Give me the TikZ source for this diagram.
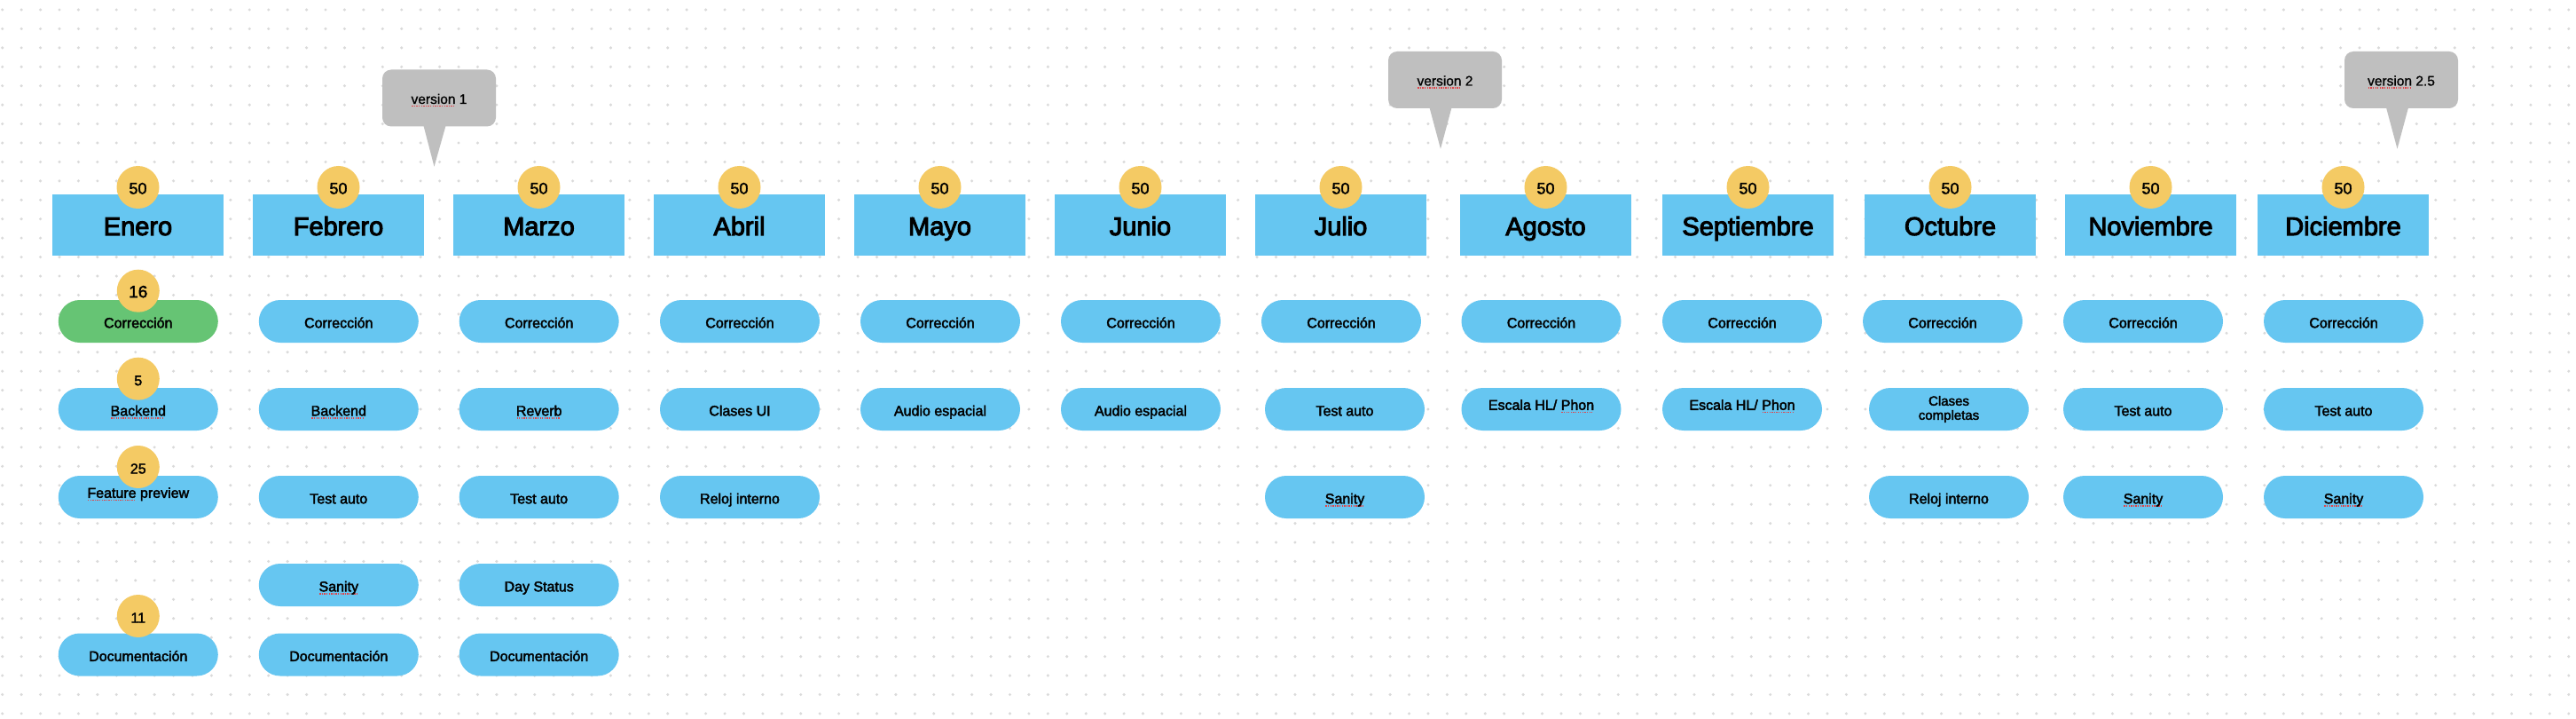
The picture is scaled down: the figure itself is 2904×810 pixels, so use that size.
\documentclass[tikz,border=0pt]{standalone}
\usepackage{fontspec}
\setmainfont{Liberation Sans}
\newfontfamily\hdrfont{Liberation Sans}[FakeBold=3.5]
\newfontfamily\pillfont{Liberation Sans}[FakeBold=2.5]
\newfontfamily\numfont{Liberation Sans}[FakeBold=2]
\newfontfamily\callfont{Liberation Sans}[FakeBold=1]
\definecolor{cblue}{HTML}{66C6F1}
\definecolor{cgreen}{HTML}{66C474}
\definecolor{cyel}{HTML}{F4CA64}
\definecolor{cgray}{HTML}{BFBFBF}
\definecolor{cdot}{HTML}{DADADA}
\definecolor{sqred}{HTML}{E0454A}
\newcommand\squig[1]{\setbox0=\hbox{#1}\rlap{\color{sqred}\leaders\hbox to 2.6pt{\hss\rule[-3.2pt]{1.3pt}{1.2pt}\hss}\hskip\wd0}\box0\relax}
\tikzset{
  hdr/.style={fill=cblue, minimum width=193, minimum height=69, inner sep=0, text height=27, text depth=4, font=\hdrfont\fontsize{29}{33}\selectfont},
  num/.style={circle, fill=cyel, minimum size=48, inner sep=0, text height=16, text depth=1, font=\numfont\fontsize{18}{20}\selectfont},
  snum/.style={num, font=\numfont\fontsize{16}{18}\selectfont},
  pill/.style={fill=cblue, rounded corners=24, minimum width=180, minimum height=48, inner sep=0, align=center, font=\pillfont\fontsize{16}{16}\selectfont},
  ptxt/.style={text height=17, text depth=2.4},
  hightxt/.style={text height=17, text depth=15.4},
  gpill/.style={pill, fill=cgreen},
  callbox/.style={fill=cgray, rounded corners=10, minimum width=128, minimum height=64, inner sep=0, text height=14, text depth=1, font=\callfont\fontsize{15.5}{17}\selectfont},
  pointer/.style={fill=cgray}
}
\begin{document}
\begin{tikzpicture}[x=1pt,y=-1pt]
\useasboundingbox (0,0) rectangle (2904,810);
\fill[white] (0,0) rectangle (2904,810);
% dot grid
\foreach \i in {0,...,135}{
  \foreach \j in {0,...,37}{
    \fill[cdot] ({2.7+\i*21.43},{11+\j*21.43}) circle (1.7);
  }
}
% month headers with counts
\foreach \x/\m/\n in {155.5/Enero/h1, 381.5/Febrero/h2, 607.5/Marzo/h3, 833.5/Abril/h4, 1059.5/Mayo/h5, 1285.5/Junio/h6, 1511.5/Julio/h7, 1742.5/Agosto/h8, 1970.5/Septiembre/h9, 2198.5/Octubre/h10, 2424.5/Noviembre/h11, 2641.5/Diciembre/h12}{
  \node[hdr] (\n) at (\x,253.5) {\m};
  \node[num] (\n c) at (\x,211) {50};
}
% Enero
\node[gpill, ptxt] (e1) at (155.8,362) {Corrección};
\node[pill, ptxt] (e2) at (155.8,461) {\squig{Backend}};
\node[pill, hightxt] (e3) at (155.8,560) {\squig{Feature} preview};
\node[pill, ptxt] (e5) at (155.8,737.5) {Documentación};
\node[num, font=\numfont\fontsize{19}{20}\selectfont] (e1c) at (155.8,327.7) {16};
\node[snum] (e2c) at (155.8,426.7) {5};
\node[snum] (e3c) at (155.8,526) {25};
\node[snum] (e5c) at (155.8,694) {11};
% Febrero
\node[pill, ptxt] (f1) at (381.8,362) {Corrección};
\node[pill, ptxt] (f2) at (381.8,461) {\squig{Backend}};
\node[pill, ptxt] (f3) at (381.8,560) {Test auto};
\node[pill, ptxt] (f4) at (381.8,659) {\squig{Sanity}};
\node[pill, ptxt] (f5) at (381.8,737.5) {Documentación};
% Marzo
\node[pill, ptxt] (m1) at (607.7,362) {Corrección};
\node[pill, ptxt] (m2) at (607.7,461) {\squig{Reverb}};
\node[pill, ptxt] (m3) at (607.7,560) {Test auto};
\node[pill, ptxt] (m4) at (607.7,659) {Day Status};
\node[pill, ptxt] (m5) at (607.7,737.5) {Documentación};
% Abril
\node[pill, ptxt] (a1) at (834,362) {Corrección};
\node[pill, ptxt] (a2) at (834,461) {Clases UI};
\node[pill, ptxt] (a3) at (834,560) {Reloj interno};
% Mayo
\node[pill, ptxt] (my1) at (1060,362) {Corrección};
\node[pill, ptxt] (my2) at (1060,461) {Audio espacial};
% Junio
\node[pill, ptxt] (jn1) at (1286,362) {Corrección};
\node[pill, ptxt] (jn2) at (1286,461) {Audio espacial};
% Julio
\node[pill, ptxt] (jl1) at (1512,362) {Corrección};
\node[pill, ptxt] (jl2) at (1516,461) {Test auto};
\node[pill, ptxt] (jl3) at (1516,560) {\squig{Sanity}};
% Agosto
\node[pill, ptxt] (ag1) at (1737.5,362) {Corrección};
\node[pill, hightxt] (ag2) at (1737.5,461) {Escala HL/ \squig{Phon}};
% Septiembre
\node[pill, ptxt] (s1) at (1964,362) {Corrección};
\node[pill, hightxt] (s2) at (1964,461) {Escala HL/ \squig{Phon}};
% Octubre
\node[pill, ptxt] (o1) at (2190,362) {Corrección};
\node[pill, font=\pillfont\fontsize{15}{16}\selectfont] (o2) at (2197,461) {Clases\\completas};
\node[pill, ptxt] (o3) at (2197,560) {Reloj interno};
% Noviembre
\node[pill, ptxt] (n1) at (2416,362) {Corrección};
\node[pill, ptxt] (n2) at (2416,461) {Test auto};
\node[pill, ptxt] (n3) at (2416,560) {\squig{Sanity}};
% Diciembre
\node[pill, ptxt] (d1) at (2642,362) {Corrección};
\node[pill, ptxt] (d2) at (2642,461) {Test auto};
\node[pill, ptxt] (d3) at (2642,560) {\squig{Sanity}};
% callouts
\node[callbox] (v1) at (495,110.5) {\squig{version} 1};
\coordinate (v1t) at (489.5,187.7);
\fill[pointer] ([xshift=-17.5pt,yshift=1pt]v1.south) -- ([xshift=7.5pt,yshift=1pt]v1.south) -- (v1t) -- cycle;
\node[callbox] (v2) at (1629,90) {\squig{version} 2};
\coordinate (v2t) at (1624,167.7);
\fill[pointer] ([xshift=-17.5pt,yshift=1pt]v2.south) -- ([xshift=7.5pt,yshift=1pt]v2.south) -- (v2t) -- cycle;
\node[callbox] (v3) at (2707,90) {\squig{version} 2.5};
\coordinate (v3t) at (2702.5,167.7);
\fill[pointer] ([xshift=-17pt,yshift=1pt]v3.south) -- ([xshift=8pt,yshift=1pt]v3.south) -- (v3t) -- cycle;
\end{tikzpicture}
\end{document}
